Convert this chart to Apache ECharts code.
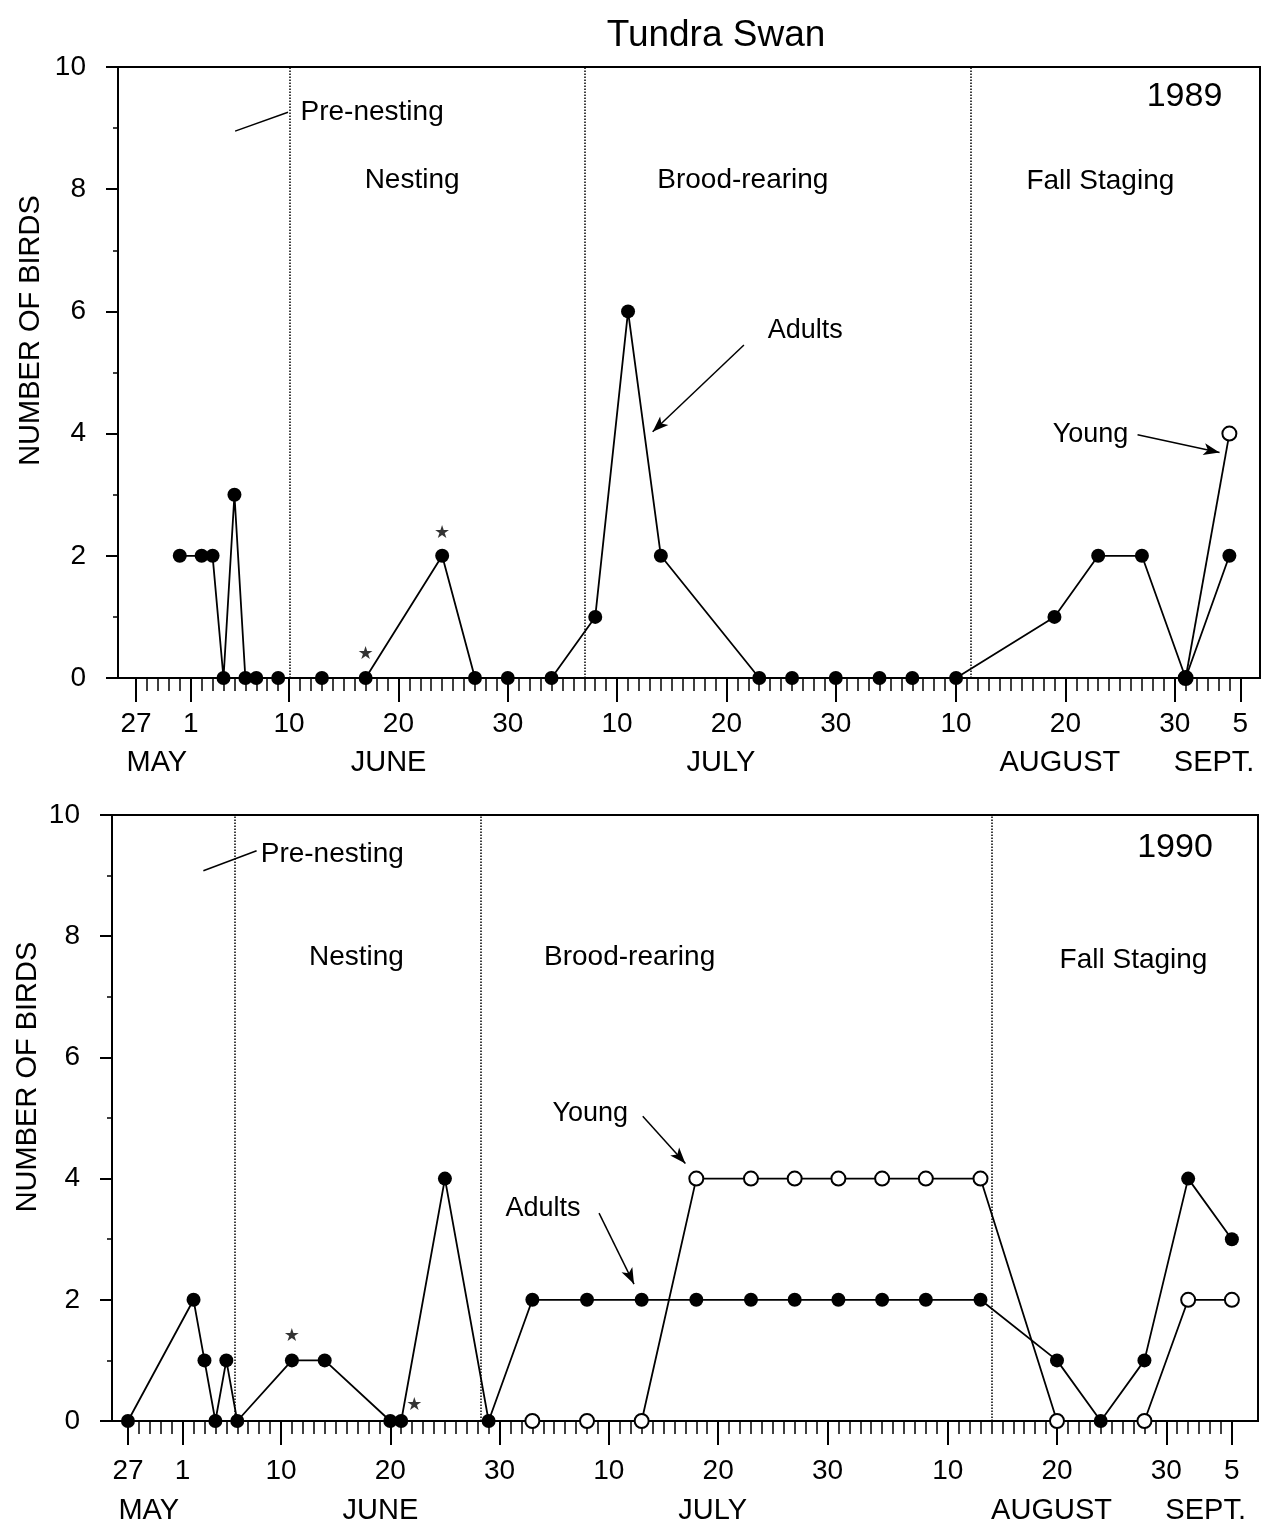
<!DOCTYPE html>
<html>
<head>
<meta charset="utf-8">
<title>Tundra Swan</title>
<script src="https://cdn.jsdelivr.net/npm/echarts@6/dist/echarts.min.js"></script>
<style>
html,body{margin:0;padding:0;background:#fff;}
#diagram{width:1265px;height:1530px;}
</style>
</head>
<body>
<div id="diagram"></div>
<script>
// x values are days counted from 27 May (1 June = 5, 1 July = 35, 1 Aug = 66, 1 Sept = 97)
var tickDays = [0, 5, 14, 24, 34, 44, 54, 64, 75, 85, 95, 101];
var tickLabels = ['27', '1', '10', '20', '30', '10', '20', '30', '10', '20', '30', '5'];
var monthDays = [1.9, 23.1, 53.5, 84.5, 98.6];
var monthNames = ['MAY', 'JUNE', 'JULY', 'AUGUST', 'SEPT.'];

// 1989
var adultDays89 = [4, 6, 7, 8, 9, 10, 11, 13, 17, 21, 28, 31, 34, 38, 42, 45, 48, 57, 60, 64, 68, 71, 75, 84, 88, 92, 96, 100];
var adults89 = [2, 2, 2, 0, 3, 0, 0, 0, 0, 0, 2, 0, 0, 0, 1, 6, 2, 0, 0, 0, 0, 0, 0, 1, 2, 2, 0, 2];
var youngDays89 = [96, 100];
var young89 = [0, 4];
var starDays89 = [21, 28];
var starLevels89 = [0.38, 2.36];
var phaseBreaks89 = [14.1, 41, 76.3];

// 1990
var adultDays90 = [0, 6, 7, 8, 9, 10, 15, 18, 24, 25, 29, 33, 37, 42, 47, 52, 57, 61, 65, 69, 73, 78, 85, 89, 93, 97, 101];
var adults90 = [0, 2, 1, 0, 1, 0, 1, 1, 0, 0, 4, 0, 2, 2, 2, 2, 2, 2, 2, 2, 2, 2, 1, 0, 1, 4, 3];
var youngDays90 = [37, 42, 47, 52, 57, 61, 65, 69, 73, 78, 85, 93, 97, 101];
var young90 = [0, 0, 0, 4, 4, 4, 4, 4, 4, 4, 0, 0, 2, 2];
var starDays90 = [15, 26.2];
var starLevels90 = [1.39, 0.26];
var phaseBreaks90 = [9.8, 32.3, 79];

var font = '"Liberation Sans", Arial, Helvetica, sans-serif';
var black = '#000';

var dailyTicks = [];
for (var d = 0; d <= 101; d++) dailyTicks.push(d);

function pairs(xs, ys) {
	return xs.map(function (x, i) { return [x, ys[i]]; });
}

function textMark(x, y, text, pos, size) {
	return {
		coord: [x, y],
		label: { formatter: text, position: pos || 'inside', distance: 0, fontSize: size || 28 }
	};
}

function arrow(x1, y1, x2, y2, head) {
	return [
		{ coord: [x1, y1], symbol: 'none', lineStyle: { type: 'solid', width: 1.5, color: black } },
		{ coord: [x2, y2], symbol: head ? 'arrow' : 'none', symbolSize: [9, 16] }
	];
}

var option = {
	animation: false,
	backgroundColor: '#fff',
	textStyle: { fontFamily: font, color: black },
	title: {
		text: 'Tundra Swan',
		left: 711,
		top: 12,
		textAlign: 'center',
		textStyle: { fontSize: 37, fontWeight: 'normal', color: black, fontFamily: font }
	},
	grid: [],
	xAxis: [],
	yAxis: [],
	series: []
};

function addPanel(p) {
	var g = option.grid.length;
	option.grid.push({
		left: p.left, top: p.top, width: p.width, height: p.height,
		show: true, borderColor: black, borderWidth: 2,
		outerBoundsMode: 'none', containLabel: false
	});
	var xi = option.xAxis.length;
	option.xAxis.push({
		type: 'value', gridIndex: g, min: p.xMin, max: p.xMax, position: 'bottom',
		axisLine: { show: true, onZero: false, lineStyle: { color: black, width: 2 } },
		axisTick: { show: true, customValues: tickDays, length: 24, lineStyle: { color: black, width: 2 } },
		axisLabel: {
			customValues: tickDays, margin: p.labelMargin, fontSize: 28, color: black, fontFamily: font,
			formatter: function (v) { return tickLabels[tickDays.indexOf(v)]; }
		},
		splitLine: { show: false }
	});
	option.xAxis.push({
		type: 'value', gridIndex: g, min: p.xMin, max: p.xMax, position: 'bottom',
		axisLine: { show: false, onZero: false },
		axisTick: { show: true, customValues: dailyTicks, length: 13, lineStyle: { color: black, width: 1.5 } },
		axisLabel: { show: false },
		splitLine: { show: false }
	});
	option.xAxis.push({
		type: 'value', gridIndex: g, min: p.xMin, max: p.xMax, position: 'bottom',
		axisLine: { show: false, onZero: false },
		axisTick: { show: false },
		axisLabel: {
			customValues: monthDays, margin: p.monthMargin, fontSize: 29, color: black, fontFamily: font,
			formatter: function (v) { return monthNames[monthDays.indexOf(v)]; }
		},
		splitLine: { show: false }
	});
	option.yAxis.push({
		type: 'value', gridIndex: g, min: 0, max: 10, interval: 2, position: 'left',
		name: 'NUMBER OF BIRDS', nameLocation: 'middle', nameGap: p.nameGap, nameRotate: 90,
		nameMoveOverlap: false,
		nameTextStyle: { fontSize: 29, color: black, fontFamily: font, padding: [0, 0, 0, p.namePad] },
		axisLine: { show: true, onZero: false, lineStyle: { color: black, width: 2 } },
		axisTick: { show: true, length: 12, lineStyle: { color: black, width: 2 } },
		minorTick: { show: true, splitNumber: 2, length: 5, lineStyle: { color: black, width: 1.5 } },
		axisLabel: { margin: 32, fontSize: 28, color: black, fontFamily: font },
		splitLine: { show: false },
		minorSplitLine: { show: false }
	});

	option.series.push({
		name: 'Young',
		type: 'line',
		xAxisIndex: xi, yAxisIndex: g,
		data: p.young,
		symbol: 'emptyCircle', symbolSize: 14,
		lineStyle: { color: black, width: 1.8 },
		itemStyle: { color: black, borderColor: black, borderWidth: 1.8 },
		z: 3
	});
	option.series.push({
		name: 'Adults',
		type: 'line',
		xAxisIndex: xi, yAxisIndex: g,
		data: p.adults,
		symbol: 'circle', symbolSize: 14,
		lineStyle: { color: black, width: 1.8 },
		itemStyle: { color: black },
		z: 4,
		markLine: {
			silent: true, symbol: ['none', 'none'], label: { show: false },
			lineStyle: { color: black, type: 'dotted', width: 1.5 },
			emphasis: { disabled: true },
			data: p.phases.map(function (x) { return { xAxis: x }; }).concat(p.arrows)
		},
		markPoint: {
			silent: true, symbol: 'circle', symbolSize: 1,
			itemStyle: { color: 'rgba(0,0,0,0)' },
			label: { show: true, color: black, fontFamily: font },
			data: p.notes
		}
	});
	option.series.push({
		name: 'stars',
		type: 'scatter',
		xAxisIndex: xi, yAxisIndex: g,
		data: p.stars,
		symbol: 'circle', symbolSize: 1,
		itemStyle: { color: 'rgba(0,0,0,0)' },
		label: { show: true, position: 'inside', formatter: '\u2605', fontSize: 18, color: black, fontFamily: 'DejaVu Sans' },
		z: 5
	});
}

addPanel({
	left: 118, top: 67, width: 1142, height: 611,
	xMin: -1.65, xMax: 102.8,
	labelMargin: 32, monthMargin: 70, nameGap: 73, namePad: 84,
	adults: pairs(adultDays89, adults89),
	young: pairs(youngDays89, young89),
	stars: pairs(starDays89, starLevels89),
	phases: phaseBreaks89,
	arrows: [
		arrow(9.06, 8.95, 13.9, 9.26, false),
		arrow(55.6, 5.45, 47.25, 4.03, true),
		arrow(91.6, 3.98, 99.1, 3.69, true)
	],
	notes: [
		textMark(15.0, 9.26, 'Pre-nesting', 'right'),
		textMark(25.25, 8.15, 'Nesting'),
		textMark(55.5, 8.15, 'Brood-rearing'),
		textMark(88.2, 8.13, 'Fall Staging'),
		textMark(99.4, 9.51, '1989', 'left', 34),
		textMark(61.2, 5.68, 'Adults', 'inside', 27),
		textMark(87.3, 3.98, 'Young', 'inside', 27)
	]
});

addPanel({
	left: 112, top: 815, width: 1146, height: 606,
	xMin: -1.46, xMax: 103.39,
	labelMargin: 36, monthMargin: 75, nameGap: 70, namePad: 82,
	adults: pairs(adultDays90, adults90),
	young: pairs(youngDays90, young90),
	stars: pairs(starDays90, starLevels90),
	phases: phaseBreaks90,
	arrows: [
		arrow(6.9, 9.08, 11.77, 9.41, false),
		arrow(47.1, 5.03, 51.0, 4.25, true),
		arrow(43.1, 3.43, 46.3, 2.26, true)
	],
	notes: [
		textMark(12.1, 9.36, 'Pre-nesting', 'right'),
		textMark(20.9, 7.66, 'Nesting'),
		textMark(45.9, 7.66, 'Brood-rearing'),
		textMark(92.0, 7.61, 'Fall Staging'),
		textMark(99.3, 9.46, '1990', 'left', 34),
		textMark(42.3, 5.08, 'Young', 'inside', 27),
		textMark(37.97, 3.51, 'Adults', 'inside', 27)
	]
});

var myChart = echarts.init(document.getElementById('diagram'), null, { renderer: 'canvas' });
myChart.setOption(option);
</script>
</body>
</html>
